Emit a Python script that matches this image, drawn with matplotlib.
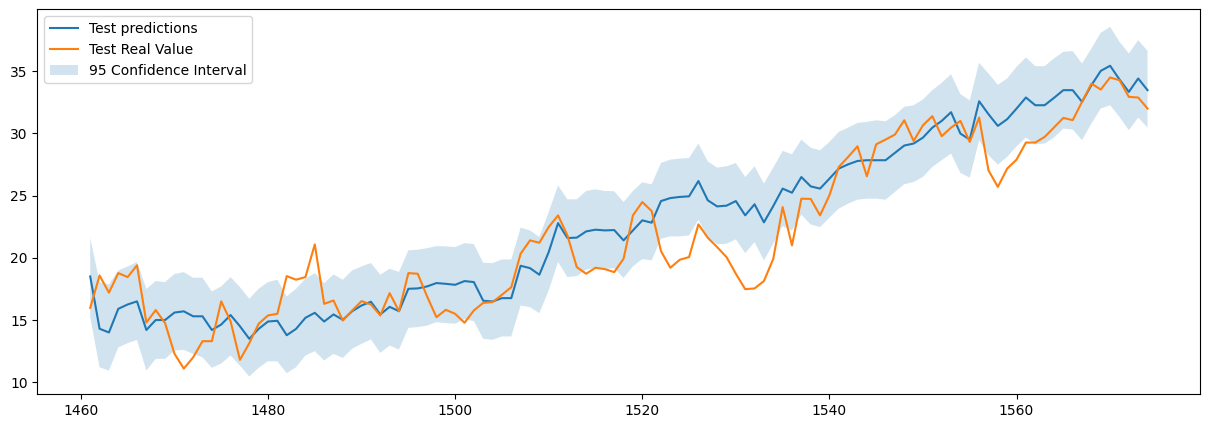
import numpy as np
import matplotlib
matplotlib.use("Agg")
import matplotlib.pyplot as plt

# x axis: test sample index
x_start = 1461
x_end = 1574

# values
pred = [18.5, 14.3, 14.0, 15.9, 16.25, 16.5, 14.2, 15.0, 15.0, 15.6,
        15.7, 15.3, 15.3, 14.2, 14.64, 15.4, 14.5, 13.49, 14.29, 14.88,
        14.94, 13.78, 14.29, 15.18, 15.58, 14.88, 15.45, 15.02, 15.71, 16.17,
        16.47, 15.45, 16.06, 15.71, 17.51, 17.54, 17.7, 17.97, 17.91, 17.83,
        18.13, 18.05, 16.55, 16.49, 16.76, 16.76, 19.36, 19.17, 18.64, 20.46,
        22.79, 21.59, 21.62, 22.12, 22.26, 22.2, 22.23, 21.4, 22.2, 23.01,
        22.82, 24.56, 24.8, 24.89, 24.94, 26.17, 24.62, 24.13, 24.19, 24.56,
        23.41, 24.3, 22.85, 24.16, 25.56, 25.23, 26.49, 25.74, 25.56, 26.36,
        27.17, 27.51, 27.78, 27.84, 27.84, 27.84, 28.43, 29.02, 29.18, 29.66,
        30.46, 31.0, 31.7, 29.98, 29.5, 32.58, 31.54, 30.6, 31.14, 31.99,
        32.88, 32.26, 32.26, 32.85, 33.47, 33.47, 32.53, 33.87, 35.02, 35.43,
        34.33, 33.33, 34.41, 33.47]

real = [15.98, 18.58, 17.2, 18.77, 18.45, 19.4, 14.8, 15.8, 14.75, 12.3,
        11.1, 12.0, 13.3, 13.3, 16.5, 14.9, 11.8, 13.14, 14.7, 15.37,
        15.5, 18.53, 18.24, 18.45, 21.08, 16.3, 16.57, 14.96, 15.77, 16.52,
        16.25, 15.37, 17.16, 15.71, 18.77, 18.72, 16.9, 15.23, 15.82, 15.5,
        14.78, 15.77, 16.38, 16.44, 17.03, 17.64, 20.33, 21.4, 21.21, 22.47,
        23.41, 21.8, 19.25, 18.72, 19.2, 19.09, 18.85, 19.92, 23.41, 24.48,
        23.76, 20.54, 19.2, 19.84, 20.06, 22.69, 21.61, 20.86, 20.06, 18.72,
        17.48, 17.54, 18.13, 19.92, 24.08, 21.0, 24.75, 24.73, 23.41, 25.02,
        27.3, 28.1, 28.96, 26.55, 29.12, 29.5, 29.9, 31.05, 29.39, 30.65,
        31.38, 29.77, 30.46, 31.0, 29.31, 31.27, 27.03, 25.7, 27.17, 27.89,
        29.26, 29.26, 29.71, 30.47, 31.24, 31.06, 32.53, 34.0, 33.52, 34.49,
        34.27, 32.93, 32.88, 31.99]

upper = [21.6, 18.05, 17.86, 18.98, 19.3, 19.66, 17.5, 18.13, 18.05, 18.7,
         18.85, 18.4, 18.4, 17.3, 17.7, 18.45, 17.65, 16.71, 17.51, 18.05,
         18.24, 16.9, 17.51, 18.32, 18.77, 17.97, 18.66, 18.24, 18.99, 19.31,
         19.58, 18.64, 19.12, 18.86, 20.6, 20.65, 20.77, 20.94, 20.92, 20.86,
         21.18, 21.1, 19.6, 19.57, 19.87, 19.87, 22.42, 22.2, 21.67, 23.68,
         25.82, 24.7, 24.7, 25.37, 25.5, 25.37, 25.35, 24.48, 25.37, 26.07,
         25.9, 27.62, 27.89, 27.97, 28.02, 29.18, 27.75, 27.25, 27.35, 27.62,
         26.49, 27.35, 25.96, 27.25, 28.59, 28.32, 29.5, 28.85, 28.64, 29.31,
         30.12, 30.46, 30.84, 30.92, 31.05, 30.97, 31.46, 32.13, 32.26, 32.72,
         33.47, 34.06, 34.75, 33.15, 32.66, 35.67, 34.81, 33.9, 34.41, 35.35,
         36.1, 35.4, 35.4, 36.02, 36.55, 36.61, 35.61, 36.82, 38.08, 38.56,
         37.36, 36.42, 37.49, 36.63]

lower = [15.23, 11.2, 10.94, 12.8, 13.14, 13.4, 10.94, 11.88, 11.88, 12.55,
         12.6, 12.28, 12.0, 11.16, 11.5, 12.15, 11.34, 10.46, 11.16, 11.69,
         11.67, 10.73, 11.21, 12.15, 12.5, 11.75, 12.28, 11.96, 12.69, 13.09,
         13.44, 12.36, 12.95, 12.63, 14.37, 14.43, 14.55, 14.83, 14.75, 14.7,
         15.07, 14.91, 13.49, 13.41, 13.68, 13.68, 16.17, 16.03, 15.55, 17.38,
         19.66, 18.45, 18.53, 19.04, 19.2, 19.09, 19.18, 18.37, 19.31, 19.9,
         19.79, 21.53, 21.72, 21.72, 21.8, 23.06, 21.61, 21.08, 21.13, 21.48,
         20.38, 21.26, 19.79, 21.13, 22.55, 22.2, 23.46, 22.68, 22.47, 23.22,
         23.95, 24.35, 24.67, 24.75, 24.75, 24.67, 25.29, 25.91, 26.09, 26.5,
         27.3, 27.84, 28.37, 26.82, 26.44, 29.44, 28.24, 27.48, 28.11, 28.96,
         29.66, 29.12, 29.18, 29.66, 30.38, 30.3, 29.45, 30.79, 31.99, 32.26,
         31.32, 30.25, 31.27, 30.47]

x = np.arange(x_start, x_end + 1)

fig = plt.figure(figsize=(12.09, 4.28), dpi=100)
ax = fig.add_axes([0.0309, 0.0794, 0.9620, 0.8988])

ax.plot(x, pred, label="Test predictions")
ax.plot(x, real, label="Test Real Value")
ax.fill_between(x, lower, upper, alpha=0.2, label="95 Confidence Interval")
ax.legend(loc="upper left")

fig.savefig("out.png", dpi=100)
